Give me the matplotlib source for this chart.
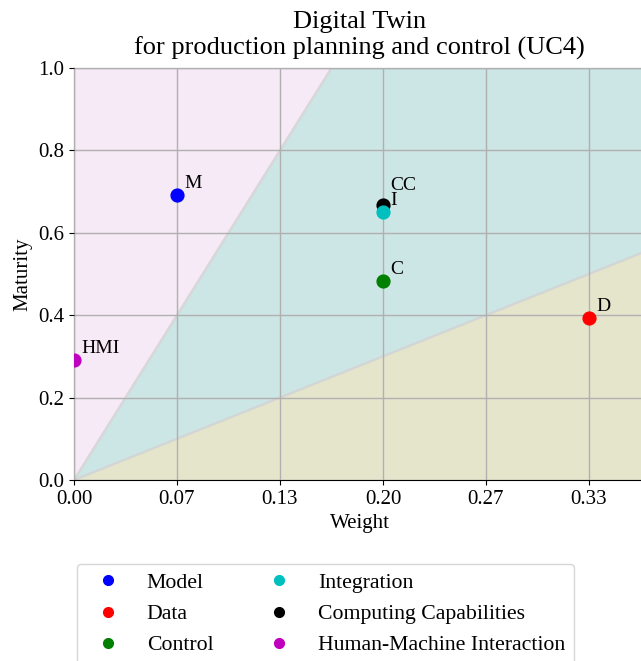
import matplotlib
matplotlib.use("Agg")
from matplotlib import pyplot as plt
import numpy as np

plt.rcParams["font.family"] = ["Liberation Serif", "DejaVu Serif"]

names = ["Model", "Data", "Control", "Integration", "Computing Capabilities", "Human-Machine Interaction"]
short = ["M", "D", "C", "I", "CC", "HMI"]
weights = [1/15, 1/3, 0.2, 0.2, 0.2, 0.0]
maturity = [0.692, 0.393, 0.483, 0.650, 0.668, 0.291]
colors = ["b", "r", "g", "c", "k", "m"]
order = [0, 1, 2, 4, 3, 5]  # drawing order (Integration above CC)

upper_slope = 6.0
lower_slope = 1.5
xticks = [0, 1/15, 2/15, 3/15, 4/15, 5/15]

fig = plt.figure(figsize=(6.41, 6.61), dpi=100)
ax = fig.add_axes([74/641, 181/661, 571.6/641, 412/661])
xmax = 0.37
ax.set_xlim(0, xmax)
ax.set_ylim(0, 1)

xs = np.linspace(0, xmax, 200)
up = np.clip(upper_slope * xs, 0, 1)
lo = np.clip(lower_slope * xs, 0, 1)
ax.fill_between(xs, up, 1, color="#f6eaf6", lw=0, zorder=1)
ax.fill_between(xs, lo, up, color="teal", alpha=0.2, lw=0, zorder=1)
ax.fill_between(xs, 0, lo, color="olive", alpha=0.2, lw=0, zorder=1)
ax.plot(xs, upper_slope * xs, color="lightgrey", lw=1.8, alpha=0.8, zorder=2)
ax.plot(xs, lower_slope * xs, color="lightgrey", lw=1.8, alpha=0.8, zorder=2)

ax.grid(True, color="#b0b0b0", lw=1, zorder=1.5)
ax.set_axisbelow(False)

for z, i in enumerate(order):
    ax.scatter(weights[i], maturity[i], s=85, color=colors[i], zorder=3 + z)
for i in range(len(names)):
    dy = 11 if short[i] == "CC" else 5
    ax.annotate(short[i], (weights[i], maturity[i]), xytext=(5, dy),
                textcoords="offset points", fontsize=14, zorder=10)

handles = [plt.Line2D([], [], ls="", marker="o", ms=7, color=colors[i]) for i in range(len(names))]
fig.legend(handles, names, loc="upper left", bbox_to_anchor=(77/641, 97/661), ncol=2,
           fontsize=15.7, borderaxespad=0, labelspacing=0.5)

ax.set_xticks(xticks)
ax.set_xticklabels(["%.2f" % t for t in xticks])
ax.set_yticks(np.arange(0, 1.01, 0.2))
ax.set_yticklabels(["%.1f" % t for t in np.arange(0, 1.01, 0.2)])
ax.tick_params(labelsize=15)
ax.spines["right"].set_visible(False)
ax.set_xlabel("Weight", fontsize=15)
ax.set_ylabel("Maturity", fontsize=15)
ax.set_title("Digital Twin\nfor production planning and control (UC4)", fontsize=19, pad=10)

plt.savefig("out.png", dpi=100)
plt.close()
